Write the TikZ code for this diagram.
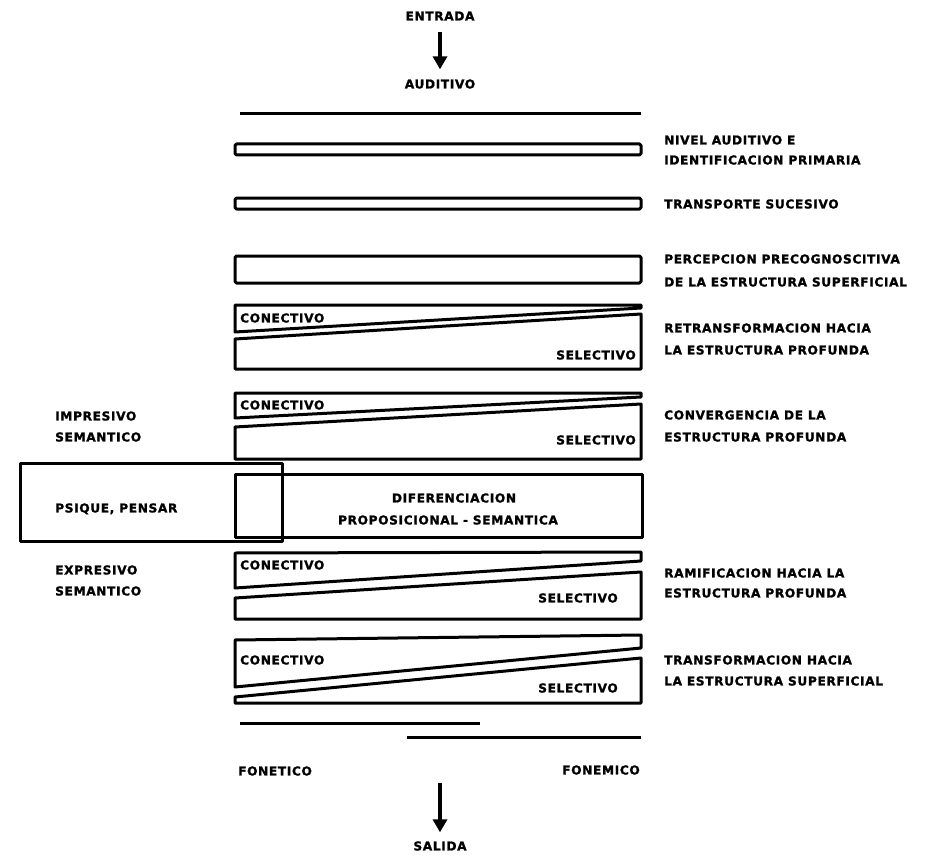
\documentclass[tikz,border=0pt]{standalone}
\usepackage{fontspec}
\setmainfont{DejaVu Sans}
\newfontfamily\lbfont{DejaVu Sans Bold}[LetterSpace=5,FakeBold=1.2]
\usetikzlibrary{arrows.meta}
\begin{document}
\begin{tikzpicture}[x=1pt,y=-1pt,
  lbl/.style={font=\lbfont\fontsize{12.2}{14}\selectfont, inner sep=0pt, text height=8.9pt, text depth=0pt, anchor=west},
  clbl/.style={lbl, anchor=center},
  shp/.style={draw, line width=3pt, line join=round},
  arr/.style={line width=3.6pt, -{Triangle[width=14pt,length=13pt]}}]
\useasboundingbox (0,0) rectangle (932,856);

% top
\node[clbl] (entrada) at (440,16) {ENTRADA};
\node[clbl] (auditivo) at (440,84) {AUDITIVO};
\draw[arr, shorten <=11pt, shorten >=10pt] (entrada) -- (auditivo);

\draw[shp] (240,114) -- (641,114);
\draw[shp, rounded corners=1.5pt] (235,144) rectangle (641,155);
\draw[shp, rounded corners=1.5pt] (235,198) rectangle (641,209);
\draw[shp, rounded corners=1.5pt] (235,256) rectangle (641,283);

% group 1
\draw[shp] (235,305) -- (641,305) -- (641,308) -- (235,332) -- cycle;
\draw[shp] (235,339) -- (641,314) -- (641,369) -- (235,369) -- cycle;
\node[lbl] (c1) at (240,318) {CONECTIVO};
\node[lbl, anchor=east] (s1) at (636,355) {SELECTIVO};

% group 2
\draw[shp] (235,393) -- (641,393) -- (641,397) -- (235,418) -- cycle;
\draw[shp] (235,427) -- (641,404) -- (641,459) -- (235,459) -- cycle;
\node[lbl] (c2) at (240,405) {CONECTIVO};
\node[lbl, anchor=east] (s2) at (636,440) {SELECTIVO};

% diferenciacion
\draw[shp] (235,474) rectangle (642,537);
\draw[shp] (20,463) rectangle (282,541);
\node[clbl] (d1) at (454,498) {DIFERENCIACION};
\node[clbl] (d2) at (448,520) {PROPOSICIONAL - SEMANTICA};
\node[lbl] (psique) at (55,508) {PSIQUE, PENSAR};

% group 3
\draw[shp] (235,553) -- (641,552) -- (641,561) -- (235,588) -- cycle;
\draw[shp] (235,598) -- (641,572) -- (641,619) -- (235,619) -- cycle;
\node[lbl] (c3) at (240,565) {CONECTIVO};
\node[lbl, anchor=east] (s3) at (618,598) {SELECTIVO};

% group 4
\draw[shp] (235,640) -- (641,635) -- (641,648) -- (235,687) -- cycle;
\draw[shp] (235,697) -- (641,658) -- (641,703) -- (235,703) -- cycle;
\node[lbl] (c4) at (240,660) {CONECTIVO};
\node[lbl, anchor=east] (s4) at (618,688) {SELECTIVO};

% bottom lines
\draw[shp] (240,723) -- (480,723);
\draw[shp] (407,737) -- (641,737);
\node[lbl] (fonetico) at (238,771) {FONETICO};
\node[lbl, anchor=east] (fonemico) at (640,770) {FONEMICO};
\coordinate (outstart) at (440,783);
\node[clbl] (salida) at (440,846) {SALIDA};
\draw[arr, shorten >=9pt] (outstart) -- (salida);

% right labels
\node[lbl] (r1a) at (664,140) {NIVEL AUDITIVO E};
\node[lbl] (r1b) at (664,160) {IDENTIFICACION PRIMARIA};
\node[lbl] (r2) at (664,204) {TRANSPORTE SUCESIVO};
\node[lbl] (r3a) at (664,259) {PERCEPCION PRECOGNOSCITIVA};
\node[lbl] (r3b) at (664,282) {DE LA ESTRUCTURA SUPERFICIAL};
\node[lbl] (r4a) at (664,328) {RETRANSFORMACION HACIA};
\node[lbl] (r4b) at (664,350) {LA ESTRUCTURA PROFUNDA};
\node[lbl] (r5a) at (664,415) {CONVERGENCIA DE LA};
\node[lbl] (r5b) at (664,437) {ESTRUCTURA PROFUNDA};
\node[lbl] (r6a) at (664,573) {RAMIFICACION HACIA LA};
\node[lbl] (r6b) at (664,593) {ESTRUCTURA PROFUNDA};
\node[lbl] (r7a) at (664,660) {TRANSFORMACION HACIA};
\node[lbl] (r7b) at (664,681) {LA ESTRUCTURA SUPERFICIAL};

% left labels
\node[lbl] (l1a) at (55,416) {IMPRESIVO};
\node[lbl] (l1b) at (55,437) {SEMANTICO};
\node[lbl] (l2a) at (55,570) {EXPRESIVO};
\node[lbl] (l2b) at (55,591) {SEMANTICO};
\end{tikzpicture}
\end{document}
